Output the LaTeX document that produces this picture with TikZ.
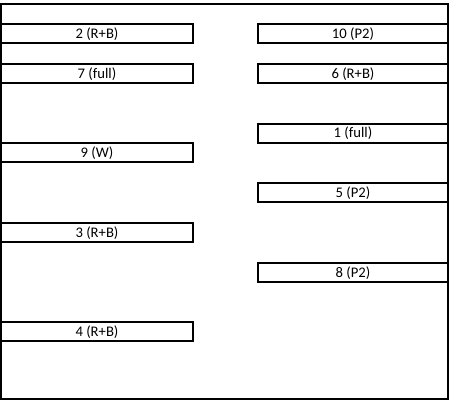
\documentclass[tikz,border=0pt]{standalone}
\usepackage{fontspec}
\setmainfont{Carlito}

\begin{document}
\begin{tikzpicture}[x=0.75pt, y=-0.75pt, line width=1.5pt,
        slot/.style={draw, rectangle, inner sep=0pt, minimum height=14.6pt,
            font=\fontsize{11}{13}\selectfont}]
        \useasboundingbox (0, 0) rectangle (451, 401);
        \draw (1, 4) rectangle (448, 398.5);

        % left column
        \foreach \y/\t/\n in {33.75/{2 (R+B)}/b2, 73.75/{7 (full)}/b7, 152.75/{9 (W)}/b9,
            232.75/{3 (R+B)}/b3, 331.75/{4 (R+B)}/b4}{
            \node[slot, minimum width=144pt] (\n) at (97, \y) {\t};
        }
        % right column
        \foreach \y/\t/\n in {33.75/{10 (P2)}/b10, 73.75/{6 (R+B)}/b6, 133.25/{1 (full)}/b1,
            192.75/{5 (P2)}/b5, 272.75/{8 (P2)}/b8}{
            \node[slot, minimum width=142.5pt] (\n) at (353, \y) {\t};
        }
    \end{tikzpicture}
\end{document}
